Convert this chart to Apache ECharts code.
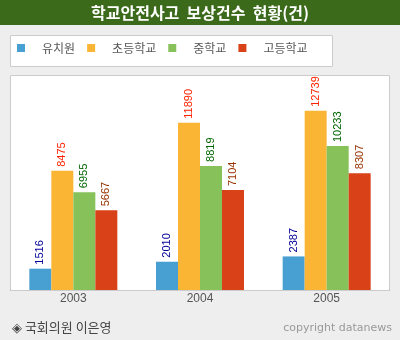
<!DOCTYPE html>
<html>
<head>
<meta charset="utf-8">
<script src="https://cdn.jsdelivr.net/npm/echarts@6/dist/echarts.min.js"></script>
<style>
  html, body { margin: 0; padding: 0; background: #eeeeee; }
  #chart { width: 400px; height: 340px; }
</style>
</head>
<body>
<div id="chart"></div>
<script>
// 학교안전사고 보상건수 (연도별, 학교급별)
const years = ['2003', '2004', '2005'];
const seriesNames = ['유치원', '초등학교', '중학교', '고등학교'];
const kindergarten = [1516, 2010, 2387];
const elementary = [8475, 11890, 12739];
const middle = [6955, 8819, 10233];
const high = [5667, 7104, 8307];

const titleWords = ['학교안전사고', '보상건수', '현황(건)'];
const sourceText = '◈ 국회의원 이은영';
const copyrightText = 'copyright datanews';

const barColors = ['#48a0d2', '#fbb535', '#87c15a', '#d94219'];
const labelColors = ['#000099', '#ff2200', '#006600', '#993300'];
const valueSets = [kindergarten, elementary, middle, high];

const krFont = '"Noto Sans CJK KR", "Noto Sans", sans-serif';

const chart = echarts.init(document.getElementById('chart'), null, { renderer: 'canvas' });

chart.setOption({
  backgroundColor: '#eeeeee',
  animation: false,
  graphic: [
    { type: 'rect', z: -10, shape: { x: 0, y: 0, width: 400, height: 25 }, style: { fill: '#3b6a1b' } },
    {
      type: 'text', z: 5, x: 200, y: 13,
      style: {
        text: titleWords.join('  '),
        fill: '#ffffff',
        font: 'bold 16px ' + krFont,
        textAlign: 'center',
        textVerticalAlign: 'middle'
      }
    },
    { type: 'rect', z: -10, shape: { x: 10.5, y: 35.5, width: 322, height: 31 }, style: { fill: '#ffffff', stroke: '#cccccc', lineWidth: 1 } },
    { type: 'rect', z: -10, shape: { x: 10.5, y: 75.5, width: 379, height: 215 }, style: { fill: '#ffffff', stroke: '#cccccc', lineWidth: 1 } },
    { type: 'text', z: 5, x: 12, y: 327, style: { text: sourceText, fill: '#444444', font: '13px ' + krFont, textAlign: 'left', textVerticalAlign: 'middle' } },
    { type: 'text', z: 5, x: 392, y: 328, style: { text: copyrightText, fill: '#999999', font: '11px "DejaVu Sans", sans-serif', textAlign: 'right', textVerticalAlign: 'middle' } }
  ],
  legend: {
    left: 17,
    top: 42,
    padding: 0,
    itemWidth: 8,
    itemHeight: 8,
    itemGap: 12,
    icon: 'rect',
    data: seriesNames,
    textStyle: { color: '#555555', fontSize: 12, fontFamily: krFont, padding: [0, 0, 0, 12] }
  },
  grid: { left: 10, right: 10, top: 79, bottom: 50, containLabel: false },
  xAxis: {
    type: 'category',
    data: years,
    boundaryGap: true,
    axisLine: { lineStyle: { color: '#cccccc', width: 1 } },
    axisTick: { inside: true, length: 5, lineStyle: { color: '#999999' } },
    axisLabel: { color: '#555555', fontSize: 12, fontFamily: '"Liberation Sans", sans-serif', margin: 3 }
  },
  yAxis: {
    type: 'value',
    min: 0,
    max: 15000,
    show: false,
    splitLine: { show: false }
  },
  series: seriesNames.map((name, i) => ({
    name: name,
    type: 'bar',
    data: valueSets[i],
    barWidth: 22,
    barGap: '0%',
    itemStyle: { color: barColors[i] },
    label: {
      show: true,
      position: 'top',
      rotate: 90,
      align: 'left',
      verticalAlign: 'middle',
      distance: 4,
      color: labelColors[i],
      fontSize: 11,
      fontFamily: '"Liberation Sans", sans-serif'
    }
  }))
});
</script>
</body>
</html>
